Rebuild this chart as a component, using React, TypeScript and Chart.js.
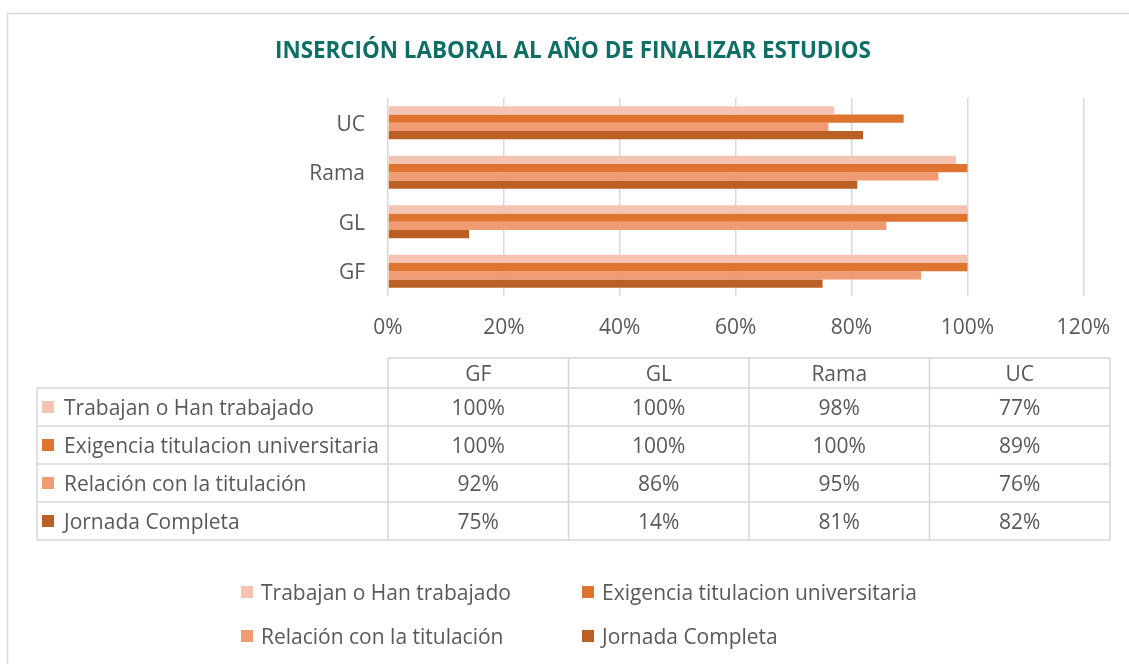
import React, { useEffect, useRef } from "react";
import { Chart, registerables } from "chart.js";

Chart.register(...registerables);

const TITLE = "INSERCIÓN LABORAL AL AÑO DE FINALIZAR ESTUDIOS";
const categories = ["GF", "GL", "Rama", "UC"];
const seriesNames = [
  "Trabajan o Han trabajado",
  "Exigencia titulacion universitaria",
  "Relación con la titulación",
  "Jornada Completa",
];
const trabajan = [100, 100, 98, 77];
const exigencia = [100, 100, 100, 89];
const relacion = [92, 86, 95, 76];
const jornada = [75, 14, 81, 82];
const seriesValues = [trabajan, exigencia, relacion, jornada];
const seriesColors = ["#F5C3B1", "#DE7430", "#F09B74", "#BA6024"];
const xMin = 0;
const xMax = 120;
const xStep = 20;

const FONT = "'Open Sans', Lato, sans-serif";
const FS = 21;
const TEXT = "#595959";
const GRID = "#d9d9d9";
const TITLE_COLOR = "#0F6E66";
const DY = 2;

const decor = {
  id: "decor",
  afterDraw(chart: any) {
    const ctx = chart.ctx as CanvasRenderingContext2D;
    const area = chart.chartArea;
    ctx.save();
    // outer frame
    ctx.strokeStyle = GRID;
    ctx.lineWidth = 1.5;
    ctx.strokeRect(7.5, 13.5, 1400, 900);

    // title
    ctx.fillStyle = TITLE_COLOR;
    ctx.font = `bold 22.4px ${FONT}`;
    ctx.textAlign = "center";
    ctx.textBaseline = "middle";
    ctx.fillText(TITLE, 573, 50 + DY);

    // data table
    const left = 37;
    const colStart = area.left;
    const right = 1110;
    const colW = (right - colStart) / categories.length;
    const headerTop = 358;
    const headerBottom = 388;
    const rowH = 38;
    const bottom = headerBottom + rowH * seriesNames.length;
    ctx.strokeStyle = "#d6d6d6";
    ctx.lineWidth = 1.5;
    ctx.beginPath();
    ctx.moveTo(colStart, headerTop);
    ctx.lineTo(right, headerTop);
    for (let r = 0; r <= seriesNames.length; r++) {
      const y = headerBottom + r * rowH;
      ctx.moveTo(left, y);
      ctx.lineTo(right, y);
    }
    ctx.moveTo(left, headerBottom);
    ctx.lineTo(left, bottom);
    for (let c = 0; c <= categories.length; c++) {
      const x = colStart + c * colW;
      ctx.moveTo(x, headerTop);
      ctx.lineTo(x, bottom);
    }
    ctx.stroke();

    ctx.font = `${FS}px ${FONT}`;
    ctx.fillStyle = TEXT;
    ctx.textAlign = "center";
    ctx.textBaseline = "middle";
    categories.forEach((c, j) => {
      ctx.fillText(c, colStart + (j + 0.5) * colW, (headerTop + headerBottom) / 2 + DY);
    });
    seriesNames.forEach((name, i) => {
      const cy = headerBottom + (i + 0.5) * rowH;
      ctx.fillStyle = seriesColors[i];
      ctx.fillRect(42, cy - 6, 12, 12);
      ctx.fillStyle = TEXT;
      ctx.textAlign = "left";
      ctx.fillText(name, 64, cy + DY);
      ctx.textAlign = "center";
      seriesValues[i].forEach((v, j) => {
        ctx.fillText(`${v}%`, colStart + (j + 0.5) * colW, cy + DY);
      });
    });

    // legend
    const legendPos = [
      [241, 592],
      [582, 592],
      [241, 636],
      [582, 636],
    ];
    seriesNames.forEach((name, i) => {
      const [lx, ly] = legendPos[i];
      ctx.fillStyle = seriesColors[i];
      ctx.fillRect(lx, ly - 6, 12, 12);
      ctx.fillStyle = TEXT;
      ctx.textAlign = "left";
      ctx.fillText(name, lx + 20, ly + DY);
    });
    ctx.restore();
  },
};

export default function App() {
  const ref = useRef<HTMLCanvasElement>(null);
  useEffect(() => {
    document.body.style.margin = "0";
    const canvas = ref.current!;
    const chart = new Chart(canvas, {
      type: "bar",
      data: {
        labels: categories,
        datasets: seriesNames.map((n, i) => ({
          label: n,
          data: seriesValues[i],
          backgroundColor: seriesColors[i],
          borderWidth: 0,
          categoryPercentage: 0.67,
          barPercentage: 1,
        })),
      },
      options: {
        indexAxis: "y",
        responsive: false,
        animation: false,
        devicePixelRatio: 1,
        layout: { padding: { top: 98, left: 17, right: 45, bottom: 318 } },
        plugins: {
          legend: { display: false },
          title: { display: false },
          tooltip: { enabled: false },
        },
        scales: {
          x: {
            min: xMin,
            max: xMax,
            ticks: {
              stepSize: xStep,
              color: TEXT,
              font: { family: FONT, size: FS },
              padding: 19,
              callback: (v: any) => `${v}%`,
            },
            grid: { color: GRID, lineWidth: 1.5, drawTicks: false },
            border: { display: false },
            afterFit: (s: any) => {
              s.height = 50;
            },
          },
          y: {
            reverse: true,
            ticks: {
              color: TEXT,
              font: { family: FONT, size: FS },
              padding: 23,
              labelOffset: DY,
            },
            grid: { display: false, drawTicks: false },
            border: { display: false },
            afterFit: (s: any) => {
              s.width = 371;
            },
          },
        },
      },
      plugins: [decor],
    });
    return () => chart.destroy();
  }, []);
  return (
    <div style={{ width: 1129, height: 664, background: "#fff" }}>
      <canvas ref={ref} width={1129} height={664} style={{ display: "block" }} />
    </div>
  );
}
